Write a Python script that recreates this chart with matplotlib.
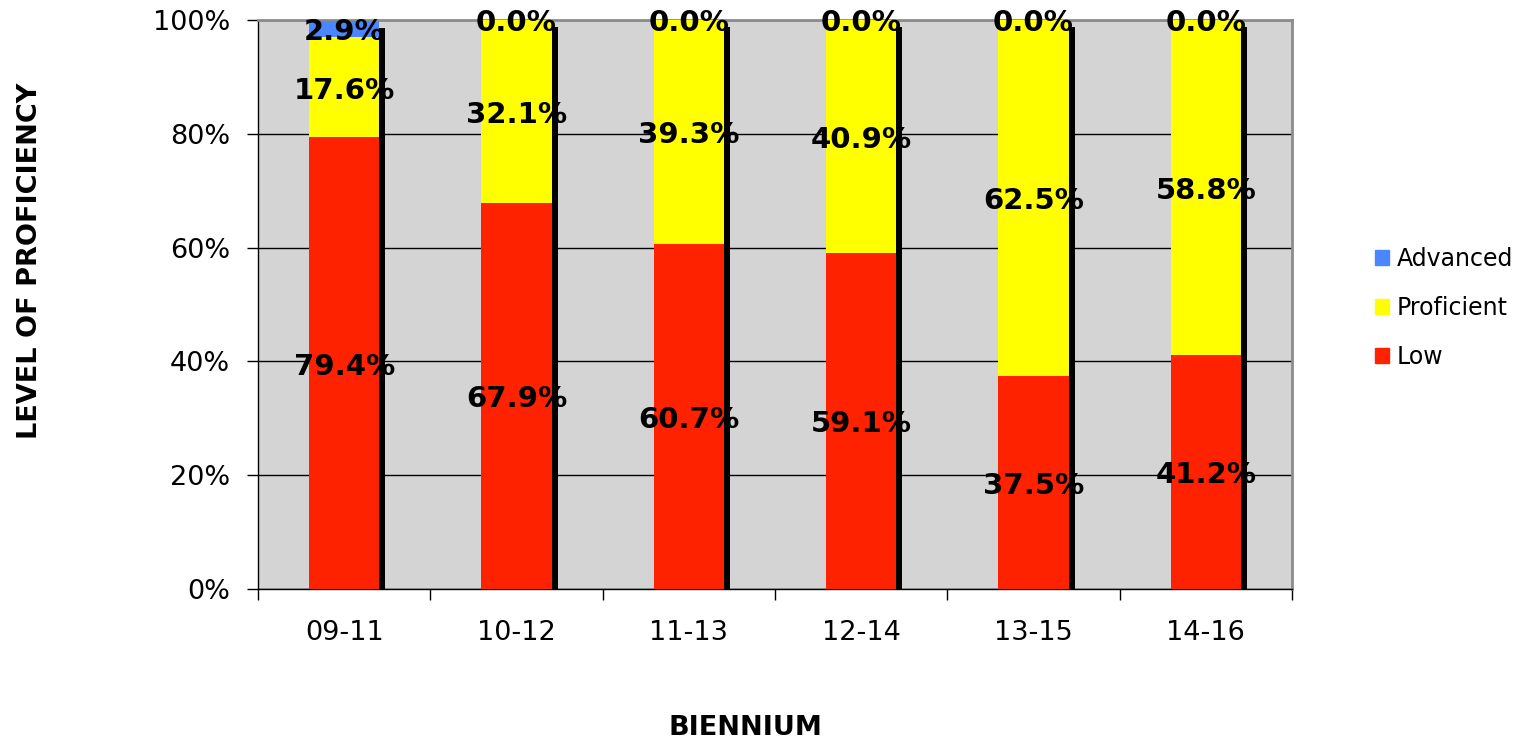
import matplotlib
matplotlib.use("Agg")
import matplotlib.pyplot as plt
import matplotlib.transforms as mtransforms
from matplotlib.patches import Patch
import numpy as np

categories = ["09-11", "10-12", "11-13", "12-14", "13-15", "14-16"]
low = [79.4, 67.9, 60.7, 59.1, 37.5, 41.2]
proficient = [17.6, 32.1, 39.3, 40.9, 62.5, 58.8]
advanced = [2.9, 0.0, 0.0, 0.0, 0.0, 0.0]
series = [("Low", low, "#FF2200"), ("Proficient", proficient, "#FFFF00"),
          ("Advanced", advanced, "#4A86FF")]
ytick_labels = ["0%", "20%", "40%", "60%", "80%", "100%"]

plt.rcParams["font.family"] = "DejaVu Sans"
fig = plt.figure(figsize=(15.29, 7.41), dpi=100)
ax = fig.add_axes([258 / 1529, 1 - 589 / 741, (1292 - 258) / 1529, (589 - 20) / 741])
ax.set_facecolor("#D4D4D4")

x = np.arange(len(categories))
width = 0.41
totals = np.sum([s[1] for s in series], axis=0)

# drop shadow behind each stacked column
shadow = ax.transData + mtransforms.ScaledTranslation(6 / 100, -7 / 100, fig.dpi_scale_trans)
ax.bar(x, totals, width, color="black", transform=shadow, zorder=2, clip_on=True)

bottom = np.zeros(len(categories))
for name, vals, color in series:
    vals = np.array(vals)
    ax.bar(x, vals, width, bottom=bottom, color=color, zorder=3, label=name)
    for xi, b, v in zip(x, bottom, vals):
        ax.annotate(f"{v:.1f}%", (xi, b + v / 2), xytext=(0, -2.5),
                    textcoords="offset points", ha="center", va="center",
                    fontsize=21, fontweight="bold", color="black", zorder=5,
                    annotation_clip=False)
    bottom += vals

ax.set_xlim(-0.5, len(categories) - 0.5)
ax.set_ylim(0, 100)
ax.set_yticks(np.arange(0, 101, 20))
ax.set_yticklabels(ytick_labels)
ax.yaxis.grid(True, color="black", linewidth=1.0, zorder=1)
ax.set_axisbelow(True)
ax.set_xticks(x)
ax.set_xticklabels(categories)
ax.set_xticks(np.arange(-0.5, len(categories)), minor=True)
ax.tick_params(axis="x", which="major", length=0, pad=22, labelsize=19.5)
ax.tick_params(axis="x", which="minor", length=8, width=1, color="black")
ax.tick_params(axis="y", length=8, width=1, pad=12, labelsize=19.5)

for side in ["top", "right"]:
    ax.spines[side].set_color("#8C8C8C")
    ax.spines[side].set_linewidth(2)
for side in ["left", "bottom"]:
    ax.spines[side].set_color("black")
    ax.spines[side].set_linewidth(1)

fig.text(30 / 1529, 1 - 261 / 741, "LEVEL OF PROFICIENCY", rotation=90,
         ha="center", va="center", fontsize=19.5, fontweight="bold")
fig.text(745 / 1529, 1 - 728 / 741, "BIENNIUM", ha="center", va="center",
         fontsize=19.5, fontweight="bold")

handles = [Patch(color=c, label=n) for n, _, c in reversed(series)]
fig.legend(handles=handles, loc="center left",
           bbox_to_anchor=(1354 / 1529, 1 - 308 / 741), frameon=False,
           fontsize=17, handlelength=0.6, handleheight=0.6, handletextpad=0.3,
           labelspacing=1.05)

fig.savefig("out.png", dpi=100)
